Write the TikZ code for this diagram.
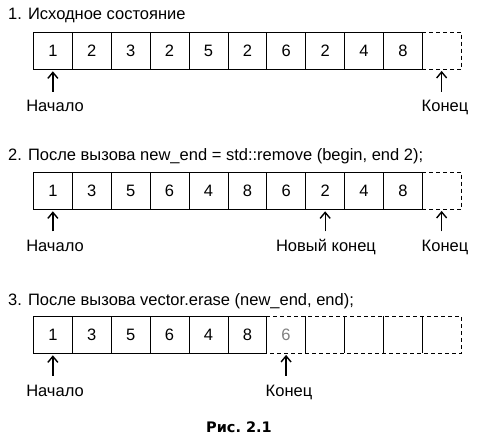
\documentclass[tikz,border=0pt]{standalone}
\usepackage{fontspec}
\setmainfont{Liberation Sans}
\newfontfamily\capfont{DejaVu Sans}
\usetikzlibrary{arrows.meta}
\begin{document}
\begin{tikzpicture}[x=1pt,y=-1pt,
  txt/.style={font=\fontsize{16.5}{16.5}\selectfont},
  cell/.style={txt, draw, line width=0.8pt, minimum width=38.9pt, minimum height=37pt, inner sep=0pt, anchor=north west},
  ecell/.style={txt, minimum width=38.9pt, minimum height=37pt, inner sep=0pt, anchor=north west},
  dashedge/.style={line width=0.8pt, dash pattern=on 4pt off 3pt},
  solidedge/.style={line width=0.8pt},
  ptr/.style={line width=1.3pt, -{Straight Barb[length=6pt,width=10pt,line width=1.4pt]}, shorten <=9pt, shorten >=1.5pt},
  lbl/.style={txt, anchor=base, inner sep=0pt, text height=11pt},
  title/.style={txt, anchor=base west, inner sep=0pt},
  caption/.style={font=\capfont\bfseries\fontsize{14.5}{14.5}\selectfont, anchor=base, inner sep=0pt}]
\useasboundingbox (0,0) rectangle (489,438);

% Row 1
\node[title] (t1) at (8,20) {1. Исходное состояние};
\foreach \v [count=\i] in {1,2,3,2,5,2,6,2,4,8}
  \node[cell] (a\i) at ({33+(\i-1)*38.9},32) {\v};
\node[ecell] (a11) at ({33+10*38.9},32) {};
\draw[dashedge] (a11.north west) -- (a11.north east) -- (a11.south east) -- (a11.south west);
\node[lbl] (a-beg) at (55,112) {Начало};
\node[lbl] (a-end) at (445,112) {Конец};
\draw[ptr] (a1.south |- a-beg.north) -- (a1.south);
\draw[ptr] (a11.south |- a-end.north) -- (a11.south);

% Row 2
\node[title] (t2) at (8,160.5) {2. После вызова new\_end = std::remove (begin, end 2);};
\foreach \v [count=\i] in {1,3,5,6,4,8,6,2,4,8}
  \node[cell] (b\i) at ({33+(\i-1)*38.9},172) {\v};
\node[ecell] (b11) at ({33+10*38.9},172) {};
\draw[dashedge] (b11.north west) -- (b11.north east) -- (b11.south east) -- (b11.south west);
\node[lbl] (b-beg) at (55,251.5) {Начало};
\node[lbl] (b-new) at (326,251.5) {Новый конец};
\node[lbl] (b-end) at (445,251.5) {Конец};
\draw[ptr] (b1.south |- b-beg.north) -- (b1.south);
\draw[ptr] (b8.south |- b-new.north) -- (b8.south);
\draw[ptr] (b11.south |- b-end.north) -- (b11.south);

% Row 3
\node[title] (t3) at (8,305) {3. После вызова vector.erase (new\_end, end);};
\foreach \v [count=\i] in {1,3,5,6,4,8}
  \node[cell] (c\i) at ({33+(\i-1)*38.9},316) {\v};
\node[ecell, text=black!50] (c7) at ({33+6*38.9},316) {6};
\foreach \i in {8,...,11}
  \node[ecell] (c\i) at ({33+(\i-1)*38.9},316) {};
\draw[dashedge] (c7.north west) -- (c11.north east) -- (c11.south east) -- (c7.south west);
\foreach \i in {7,...,10}
  \draw[solidedge] (c\i.north east) -- (c\i.south east);
\node[lbl] (c-beg) at (55,396) {Начало};
\node[lbl] (c-end) at (289,396) {Конец};
\draw[ptr] (c1.south |- c-beg.north) -- (c1.south);
\draw[ptr] (c7.south |- c-end.north) -- (c7.south);

% Caption
\node[caption] (cap) at (239,432) {Рис.\ 2.1};
\end{tikzpicture}
\end{document}
